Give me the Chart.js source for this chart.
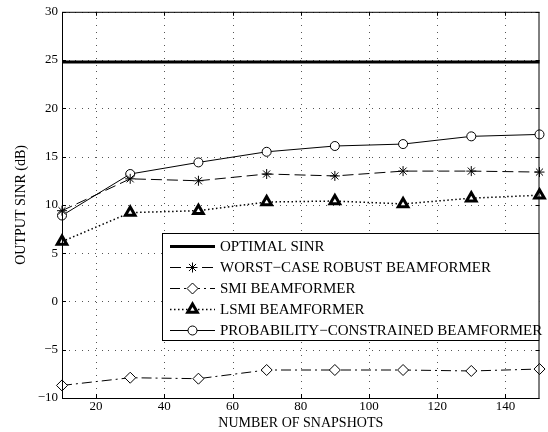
<!DOCTYPE html>
<html>
<head>
<meta charset="utf-8">
<script src="https://cdn.jsdelivr.net/npm/chart.js@4.4.0/dist/chart.umd.min.js"></script>
<style>
  html, body { margin: 0; padding: 0; background: #fff; }
  #wrap { width: 548px; height: 432px; }
</style>
</head>
<body>
<div id="wrap"><canvas id="sinrChart" width="548" height="432"></canvas></div>
<script>
// snapshots (x) and output SINR in dB for each beamformer
const snapshots = [10, 30, 50, 70, 90, 110, 130, 150];
const optimalSinr = [24.8, 24.8, 24.8, 24.8, 24.8, 24.8, 24.8, 24.8];
const worstCase = [9.4, 12.7, 12.5, 13.2, 13.0, 13.5, 13.5, 13.4];
const smi = [-8.7, -7.9, -8.0, -7.1, -7.1, -7.1, -7.2, -7.0];
const lsmi = [6.2, 9.2, 9.4, 10.3, 10.4, 10.1, 10.7, 11.0];
const probConstrained = [8.9, 13.2, 14.4, 15.5, 16.1, 16.3, 17.1, 17.3];

const xTicks = [20, 40, 60, 80, 100, 120, 140];
const yTicks = [-10, -5, 0, 5, 10, 15, 20, 25, 30];

const seriesNames = [
    'OPTIMAL SINR',
    'WORST\u2212CASE ROBUST BEAMFORMER',
    'SMI BEAMFORMER',
    'LSMI BEAMFORMER',
    'PROBABILITY\u2212CONSTRAINED BEAMFORMER'
];

const FONT = '"Liberation Serif", "DejaVu Serif", serif';
const DOT_STEP = 6.6;

function toPoints(values) {
    return snapshots.map((x, i) => ({ x: x, y: values[i] }));
}

// dotted grid drawn by hand so the dots come out crisp
const dotGridPlugin = {
    id: 'dotGrid',
    beforeDatasetsDraw(chart) {
        const ctx = chart.ctx;
        const a = chart.chartArea;
        const xs = chart.scales.x, ys = chart.scales.y;
        ctx.save();
        ctx.fillStyle = '#555';
        xTicks.forEach(v => {
            const px = Math.round(xs.getPixelForValue(v));
            for (let y = a.top; y < a.bottom; y += DOT_STEP) {
                ctx.fillRect(px, Math.round(y), 1, 1);
            }
        });
        yTicks.forEach(v => {
            const py = Math.round(ys.getPixelForValue(v));
            for (let x = a.left; x < a.right; x += DOT_STEP) {
                ctx.fillRect(Math.round(x), py, 1, 1);
            }
        });
        ctx.restore();
    }
};

// box around the axes, inward tick marks and the legend box (matlab look)
const framePlugin = {
    id: 'frame',
    afterDatasetsDraw(chart) {
        const ctx = chart.ctx;
        const a = chart.chartArea;
        const xs = chart.scales.x, ys = chart.scales.y;
        ctx.save();
        ctx.strokeStyle = '#000';
        ctx.lineWidth = 1;
        ctx.setLineDash([]);
        ctx.strokeRect(a.left + 0.5, a.top + 0.5, a.right - a.left - 1, a.bottom - a.top);

        // small ticks pointing inside
        ctx.beginPath();
        xTicks.forEach(v => {
            const px = Math.round(xs.getPixelForValue(v)) + 0.5;
            ctx.moveTo(px, a.bottom); ctx.lineTo(px, a.bottom - 4);
            ctx.moveTo(px, a.top); ctx.lineTo(px, a.top + 4);
        });
        yTicks.forEach(v => {
            const py = Math.round(ys.getPixelForValue(v)) + 0.5;
            ctx.moveTo(a.left, py); ctx.lineTo(a.left + 4, py);
            ctx.moveTo(a.right, py); ctx.lineTo(a.right - 4, py);
        });
        ctx.stroke();

        // legend
        const boxL = 162, boxT = 233, boxR = a.right, boxB = 341;
        ctx.fillStyle = '#fff';
        ctx.fillRect(boxL, boxT, boxR - boxL, boxB - boxT);
        ctx.strokeRect(boxL + 0.5, boxT + 0.5, boxR - boxL - 1, boxB - boxT - 1);

        const rowH = 21.2;
        const y0 = 245.5;
        ctx.font = '15px ' + FONT;
        ctx.textBaseline = 'middle';
        chart.data.datasets.forEach((ds, i) => {
            const y = Math.round(y0 + i * rowH) + 0.5;
            ctx.strokeStyle = ds.borderColor;
            ctx.lineWidth = ds.borderWidth;
            ctx.setLineDash(ds.borderDash || []);
            ctx.beginPath();
            ctx.moveTo(170, y);
            ctx.lineTo(215, y);
            ctx.stroke();
            if (ds.pointStyle && ds.pointRadius > 0) {
                ctx.setLineDash([]);
                ctx.lineWidth = ds.pointBorderWidth;
                ctx.strokeStyle = ds.pointBorderColor;
                ctx.fillStyle = ds.pointBackgroundColor;
                Chart.helpers.drawPoint(ctx, {
                    pointStyle: ds.pointStyle,
                    radius: ds.pointRadius,
                    rotation: 0,
                    borderWidth: ds.pointBorderWidth
                }, 192.5, y);
            }
            ctx.fillStyle = '#000';
            ctx.fillText(ds.label, 220, y + 1);
        });
        ctx.restore();
    }
};

const ctxSinr = document.getElementById('sinrChart').getContext('2d');
new Chart(ctxSinr, {
    type: 'line',
    data: {
        datasets: [
            {
                label: seriesNames[0],
                data: toPoints(optimalSinr),
                borderColor: '#000',
                borderWidth: 3,
                pointRadius: 0
            },
            {
                label: seriesNames[1],
                data: toPoints(worstCase),
                borderColor: '#000',
                borderWidth: 1,
                borderDash: [11, 5],
                pointStyle: 'star',
                pointRadius: 5,
                pointBorderWidth: 1,
                pointBorderColor: '#000',
                pointBackgroundColor: '#000'
            },
            {
                label: seriesNames[2],
                data: toPoints(smi),
                borderColor: '#000',
                borderWidth: 1,
                borderDash: [10, 4, 2, 4],
                pointStyle: 'rectRot',
                pointRadius: 5.5,
                pointBorderWidth: 1,
                pointBorderColor: '#000',
                pointBackgroundColor: '#fff'
            },
            {
                label: seriesNames[3],
                data: toPoints(lsmi),
                borderColor: '#000',
                borderWidth: 1.5,
                borderDash: [1.5, 2.5],
                pointStyle: 'triangle',
                pointRadius: 5.5,
                pointBorderWidth: 3,
                pointBorderColor: '#000',
                pointBackgroundColor: '#fff'
            },
            {
                label: seriesNames[4],
                data: toPoints(probConstrained),
                borderColor: '#000',
                borderWidth: 1,
                pointStyle: 'circle',
                pointRadius: 4.5,
                pointBorderWidth: 1,
                pointBorderColor: '#000',
                pointBackgroundColor: '#fff'
            }
        ]
    },
    options: {
        responsive: false,
        animation: false,
        clip: false,
        layout: { padding: { left: 0, right: 2, top: 6, bottom: 0 } },
        elements: { line: { tension: 0 } },
        plugins: {
            legend: { display: false },
            tooltip: { enabled: false }
        },
        scales: {
            x: {
                type: 'linear',
                min: 10,
                max: 150,
                afterBuildTicks: (scale) => { scale.ticks = xTicks.map(v => ({ value: v })); },
                afterFit: (scale) => { scale.height = 34; },
                ticks: {
                    color: '#000',
                    padding: 1,
                    maxRotation: 0,
                    font: { family: FONT, size: 13 }
                },
                grid: { display: false, drawTicks: false },
                border: { display: false },
                title: {
                    display: true,
                    text: 'NUMBER OF SNAPSHOTS',
                    color: '#000',
                    padding: 0,
                    font: { family: FONT, size: 14 }
                }
            },
            y: {
                min: -10,
                max: 30,
                afterBuildTicks: (scale) => { scale.ticks = yTicks.map(v => ({ value: v })); },
                afterFit: (scale) => { scale.width = 62; },
                ticks: {
                    color: '#000',
                    padding: 4,
                    font: { family: FONT, size: 13 },
                    callback: (v) => String(v).replace('-', '\u2212')
                },
                grid: { display: false, drawTicks: false },
                border: { display: false },
                title: {
                    display: true,
                    text: 'OUTPUT SINR (dB)',
                    color: '#000',
                    padding: { top: 13, bottom: 0 },
                    font: { family: FONT, size: 14 }
                }
            }
        }
    },
    plugins: [dotGridPlugin, framePlugin]
});
</script>
</body>
</html>
